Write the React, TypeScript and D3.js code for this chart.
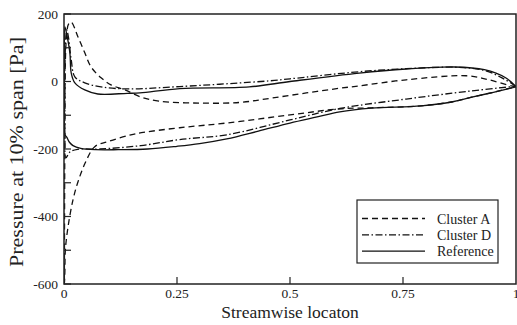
import React from "react";
import * as d3 from "d3";

// ---- data ----
const xTicks = [0, 0.25, 0.5, 0.75, 1];
const xTickLabels = ["0", "0.25", "0.5", "0.75", "1"];
const yMajorTicks = [200, 0, -200, -400, -600];
const yMinorTicks = [200, 100, 0, -100, -200, -300, -400, -500, -600];

const seriesNames = ["Cluster A", "Cluster D", "Reference"];

// Cluster A (dashed) closed loop: TE -> upper -> LE -> lower -> TE
const clusterAX = [1, 0.99, 0.94, 0.89, 0.757, 0.653, 0.61, 0.536, 0.46, 0.39, 0.3, 0.21, 0.168, 0.135, 0.104, 0.082, 0.06, 0.046, 0.031, 0.016, 0.01, 0.006, 0.003, 0.002, 0.0015, 0.001, 0.001, 0.002, 0.003, 0.009, 0.02, 0.031, 0.047, 0.068, 0.097, 0.148, 0.18, 0.256, 0.36, 0.5, 0.61, 0.68, 0.79, 0.86, 0.9, 0.95, 1];
const clusterAY = [-15, -13, 5, 17, 5, -13, -20, -34, -49, -62, -64, -58, -45, -25, -10, 11, 43, 85, 132, 176, 170, 140, 60, -100, -300, -500, -600, -560, -500, -430, -350, -297, -241, -193, -178, -158, -150, -137, -123, -99, -81, -78, -72, -60, -47, -32, -15];

// Cluster D (dash-dot)
const clusterDX = [1, 0.97, 0.93, 0.87, 0.757, 0.653, 0.5, 0.455, 0.256, 0.14, 0.082, 0.046, 0.024, 0.016, 0.01, 0.006, 0.003, 0.002, 0.002, 0.004, 0.013, 0.03, 0.08, 0.17, 0.256, 0.36, 0.5, 0.61, 0.757, 0.9, 1];
const clusterDY = [-14, 10, 33, 42, 38, 29, 8, 2, -15, -22, -16, -4, 14, 64, 130, 153, 100, -50, -170, -226, -209, -201, -200, -190, -172, -158, -114, -80, -52, -28, -14];

// Reference (solid)
const referenceX = [1, 0.977, 0.93, 0.863, 0.757, 0.653, 0.5, 0.41, 0.256, 0.168, 0.14, 0.075, 0.046, 0.024, 0.016, 0.013, 0.006, 0.002, 0.001, 0.001, 0.002, 0.006, 0.012, 0.02, 0.037, 0.07, 0.12, 0.185, 0.25, 0.3, 0.36, 0.43, 0.5, 0.56, 0.61, 0.68, 0.79, 0.86, 0.9, 0.95, 1];
const referenceY = [-16, 11, 35, 43, 37, 25, 0, -16, -21, -34, -35, -37, -25, -4, 25, 85, 140, 162, 60, -100, -158, -165, -180, -190, -198, -202, -202, -200, -192, -184, -170, -147, -123, -105, -90, -79, -72, -60, -47, -32, -16];

const W = 517;
const H = 325;
const margin = { left: 64, right: 1, top: 14, bottom: 41 };
const FONT = "Liberation Serif, DejaVu Serif, serif";

export default function App() {
  const x = d3.scaleLinear().domain([0, 1]).range([margin.left, W - margin.right]);
  const y = d3.scaleLinear().domain([-600, 200]).range([H - margin.bottom, margin.top]);

  const line = d3
    .line<[number, number]>()
    .x((d) => x(d[0]))
    .y((d) => y(d[1]))
    .curve(d3.curveCatmullRom.alpha(0.5));

  const zip = (xs: number[], ys: number[]) => xs.map((v, i) => [v, ys[i]] as [number, number]);

  const series = [
    { name: seriesNames[0], d: line(zip(clusterAX, clusterAY)), dash: "6,4" },
    { name: seriesNames[1], d: line(zip(clusterDX, clusterDY)), dash: "7,2.5,1.5,2.5" },
    { name: seriesNames[2], d: line(zip(referenceX, referenceY)), dash: "none" },
  ];

  const x0 = x(0), x1 = x(1), yTop = y(200), yBot = y(-600);
  const ts = (size: number): React.CSSProperties => ({ fontFamily: FONT, fontSize: size });

  const legX = 357, legY = 200, legW = 141, legH = 63;

  return (
    <svg
      width={W}
      height={H}
      style={{ position: "absolute", left: 0, top: 0, background: "#fff", fontFamily: FONT }}
    >
      <defs>
        <clipPath id="plotClip">
          <rect x={x0} y={yTop} width={x1 - x0} height={yBot - yTop} />
        </clipPath>
      </defs>

      {/* curves */}
      <g clipPath="url(#plotClip)" fill="none" stroke="#111" strokeWidth={1.3}>
        {series.map((s) => (
          <path key={s.name} d={s.d || ""} strokeDasharray={s.dash} />
        ))}
      </g>

      {/* frame */}
      <rect x={x0} y={yTop} width={x1 - x0} height={yBot - yTop} fill="none" stroke="#222" strokeWidth={1.5} />

      {/* y ticks */}
      {yMinorTicks.map((t) => (
        <line key={"yt" + t} x1={x0} x2={x0 + 7} y1={y(t)} y2={y(t)} stroke="#222" strokeWidth={1.2} />
      ))}
      {yMajorTicks.map((t) => (
        <text key={"yl" + t} x={x0 - 6} y={y(t) + 4.5} style={ts(13.5)} textAnchor="end" fill="#222">
          {t}
        </text>
      ))}

      {/* x ticks */}
      {xTicks.map((t, i) => (
        <g key={"xt" + t}>
          {t > 0 && t < 1 && (
            <line x1={x(t)} x2={x(t)} y1={yBot} y2={yBot - 7} stroke="#222" strokeWidth={1.2} />
          )}
          <text x={x(t)} y={yBot + 14} style={ts(13.5)} textAnchor="middle" fill="#222">
            {xTickLabels[i]}
          </text>
        </g>
      ))}

      {/* axis titles */}
      <text x={(x0 + x1) / 2} y={318} style={ts(17.5)} textAnchor="middle" fill="#222">
        Streamwise locaton
      </text>
      <text
        transform={`translate(23, 152) rotate(-90)`}
        style={ts(18.5)}
        textAnchor="middle"
        textLength={230}
        lengthAdjust="spacingAndGlyphs"
        fill="#222"
      >
        Pressure at 10% span [Pa]
      </text>

      {/* legend */}
      <rect x={legX} y={legY} width={legW} height={legH} fill="#fff" stroke="#222" strokeWidth={1.2} />
      {series.map((s, i) => {
        const ly = legY + 18.5 + i * 16.3;
        return (
          <g key={"leg" + s.name}>
            <line x1={362} x2={425} y1={ly} y2={ly} stroke="#111" strokeWidth={1.3} strokeDasharray={s.dash} />
            <text x={437} y={ly + 5} style={ts(14)} fill="#222">
              {s.name}
            </text>
          </g>
        );
      })}
    </svg>
  );
}
